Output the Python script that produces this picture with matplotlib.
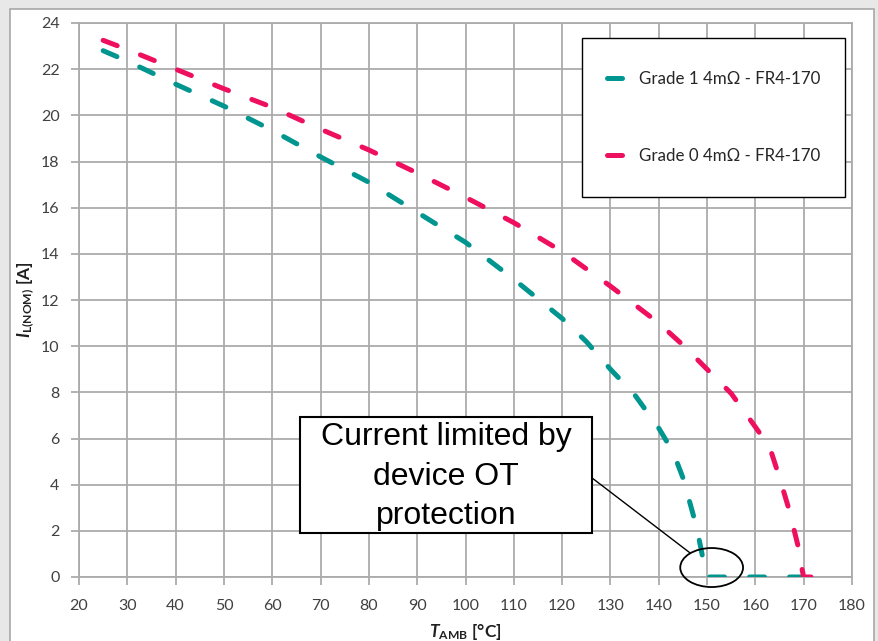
import matplotlib
matplotlib.use("Agg")
import matplotlib.pyplot as plt
from matplotlib.patches import Rectangle, Ellipse

plt.rcParams['font.family'] = ['Lato', 'DejaVu Sans']
plt.rcParams['mathtext.fontset'] = 'custom'
plt.rcParams['mathtext.rm'] = 'Lato'
plt.rcParams['mathtext.it'] = 'Lato:italic'
plt.rcParams['mathtext.bf'] = 'Lato:bold'
plt.rcParams['mathtext.bfit'] = 'Lato:italic:bold'

# data
t_grade1 = [25, 30, 40, 50, 60, 70, 80, 90, 100, 110, 120, 125, 130, 135,
            140, 143, 145, 147, 148, 149, 149.5, 150, 160, 170]
i_grade1 = [22.8, 22.35, 21.35, 20.4, 19.35, 18.2, 17.1, 15.8, 14.5, 12.9,
            11.2, 10.2, 9.0, 7.9, 6.45, 5.4, 4.3, 2.8, 2.0, 0.95, 0.45, 0, 0, 0]

t_grade0 = [25, 30, 40, 50, 60, 70, 80, 90, 100, 110, 120, 130, 140, 145,
            150, 155, 160, 163, 165, 167, 169, 169.5, 170, 172]
i_grade0 = [23.25, 22.85, 22.0, 21.15, 20.35, 19.4, 18.5, 17.5, 16.45, 15.35,
            14.1, 12.6, 11.0, 10.05, 9.0, 7.95, 6.5, 5.6, 4.3, 2.9, 1.2, 0.5, 0, 0]

labels = ["Grade 1 4m\u03a9 - FR4-170", "Grade 0 4m\u03a9 - FR4-170"]
colors = ["#00968F", "#EF0F5F"]
x_ticks = list(range(20, 181, 10))
y_ticks = list(range(0, 25, 2))
note = "Current limited by\ndevice OT\nprotection"

grey = "#ababab"
fig = plt.figure(figsize=(8.79, 6.41), dpi=100)
fig.patch.set_facecolor("#e8e8e8")
panel = Rectangle((10 / 879, -0.1), 864 / 879, 1.1 - 9 / 641, transform=fig.transFigure,
                  facecolor="white", edgecolor="#a8a8a8", lw=1.2, zorder=0)
fig.add_artist(panel)

ax = fig.add_axes([79 / 879, 1 - 577 / 641, 773 / 879, 554 / 641])
ax.set_facecolor("white")

dash = (0, (3.0, 5.0))
for x, y, lab, c in zip([t_grade1, t_grade0], [i_grade1, i_grade0], labels, colors):
    ax.plot(x, y, color=c, lw=3.6, linestyle=dash, dash_capstyle="round", label=lab, zorder=3)

ax.set_xlim(20, 180)
ax.set_ylim(0, 24)
ax.set_xticks(x_ticks)
ax.set_yticks(y_ticks)
ax.grid(True, color=grey, lw=1.3)
ax.set_axisbelow(True)
for s in ax.spines.values():
    s.set_color(grey)
    s.set_linewidth(1.3)
ax.tick_params(direction="out", length=6, width=1.3, color=grey, labelcolor="#404040",
               labelsize=11.5)
ax.tick_params(axis="y", pad=8)
ax.tick_params(axis="x", pad=10)

ax.set_ylabel(r"$\mathbfit{I}_{\mathbf{L(NOM)}}$ [A]", fontsize=12.5, fontweight="bold",
              color="#202020")
ax.yaxis.set_label_coords(-0.054, 0.5)
ax.set_xlabel(r"$\mathbfit{T}_{\mathbf{AMB}}$ [°C]", fontsize=12.5, fontweight="bold",
              color="#202020", labelpad=6)

# legend: frame drawn separately so its size can be matched
ax.add_patch(Rectangle((0.651, 0.686), 0.340, 0.287, transform=ax.transAxes,
                       facecolor="white", edgecolor="black", lw=1.0, zorder=4))
leg = ax.legend(loc="center", bbox_to_anchor=(0.821, 0.8295), borderaxespad=0,
                fontsize=12.2, handlelength=0.85, handletextpad=1.0, borderpad=0,
                labelspacing=3.65, frameon=False)
leg.set_zorder(5)
for t in leg.get_texts():
    t.set_color("#262626")

# callout
box = Rectangle((65.75, 1.91), 60.45, 5.02, facecolor="white", edgecolor="black",
                lw=1.5, zorder=4)
ax.add_patch(box)
ax.text(95.97, 4.35, note, ha="center", va="center", fontsize=23,
        family="Liberation Sans", linespacing=1.4, zorder=5)
ax.plot([126.2, 146.5], [4.29, 1.04], color="black", lw=1.0, zorder=5)
ax.add_patch(Ellipse((150.95, 0.41), 13.0, 1.69, fill=False, edgecolor="black",
                     lw=1.3, clip_on=False, zorder=6))

fig.savefig("out.png", dpi=100, facecolor=fig.get_facecolor())
